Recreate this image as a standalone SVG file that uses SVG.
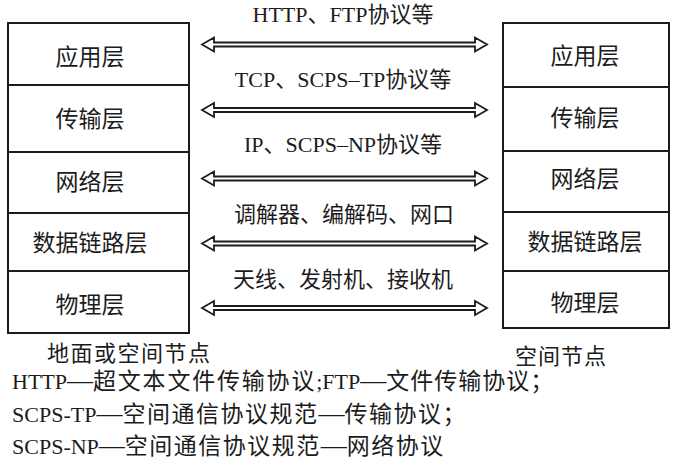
<svg xmlns="http://www.w3.org/2000/svg" width="678" height="468" viewBox="0 0 678 468">
<style>
text{font-family:"Liberation Serif","Noto Sans CJK SC",serif;fill:#1c1c1c;}
.cell{fill:#fff;stroke:#1c1c1c;stroke-width:2;}
.lbl{font-size:23px;text-anchor:middle;}
.al{font-size:22px;text-anchor:middle;}
.note{font-size:22px;}
.cj{font-size:23px;letter-spacing:1.5px;}
.dash{font-size:26px;}
.arr{fill:#fff;stroke:#1c1c1c;stroke-width:1.8;stroke-linejoin:miter;}
</style>
<defs>
<path id="dbl" class="arr" d="M202,0 L214,-7 L214,-2 L475,-2 L475,-7 L487,0 L475,7 L475,2 L214,2 L214,7 Z"/>
</defs>
<rect width="678" height="468" fill="#fff"/>

<g id="left-app"><rect class="cell" x="8" y="23" width="181" height="62"/><text class="lbl" x="90" y="65">应用层</text></g>
<g id="left-transport"><rect class="cell" x="8" y="85" width="181" height="67"/><text class="lbl" x="90" y="127">传输层</text></g>
<g id="left-network"><rect class="cell" x="8" y="152" width="181" height="61"/><text class="lbl" x="90" y="190">网络层</text></g>
<g id="left-datalink"><rect class="cell" x="8" y="213" width="181" height="58"/><text class="lbl" x="90" y="251">数据链路层</text></g>
<g id="left-physical"><rect class="cell" x="8" y="271" width="181" height="62"/><text class="lbl" x="90" y="313">物理层</text></g>

<g id="right-app"><rect class="cell" x="503" y="23" width="166" height="64"/><text class="lbl" x="585" y="64">应用层</text></g>
<g id="right-transport"><rect class="cell" x="503" y="87" width="166" height="64"/><text class="lbl" x="585" y="126">传输层</text></g>
<g id="right-network"><rect class="cell" x="503" y="151" width="166" height="61"/><text class="lbl" x="585" y="187">网络层</text></g>
<g id="right-datalink"><rect class="cell" x="503" y="212" width="166" height="59"/><text class="lbl" x="585" y="250">数据链路层</text></g>
<g id="right-physical"><rect class="cell" x="503" y="271" width="166" height="57"/><text class="lbl" x="585" y="311">物理层</text></g>

<g id="connectors">
<use href="#dbl" transform="translate(0,44.5)"/>
<use href="#dbl" transform="translate(0,110)"/>
<use href="#dbl" transform="translate(0,178.5)"/>
<use href="#dbl" transform="translate(0,243.5)"/>
<use href="#dbl" transform="translate(0,308)"/>
<text class="al" x="343" y="22">HTTP、FTP协议等</text>
<text class="al" x="343" y="87">TCP、SCPS–TP协议等</text>
<text class="al" x="343" y="152">IP、SCPS–NP协议等</text>
<text class="al" x="344" y="222">调解器、编解码、网口</text>
<text class="al" x="343" y="287">天线、发射机、接收机</text>
</g>

<g id="captions">
<text class="note" x="47" y="361" letter-spacing="1.5">地面或空间节点</text>
<text class="note" x="515" y="364" letter-spacing="1">空间节点</text>
<text class="note" x="12" y="389">HTTP<tspan class="dash">—</tspan><tspan class="cj" style="letter-spacing:1.8px">超文本文件传输协议</tspan>;FTP<tspan class="dash">—</tspan><tspan class="cj" style="letter-spacing:1px">文件传输协议；</tspan></text>
<text class="note" x="12" y="422">SCPS-TP<tspan class="dash">—</tspan><tspan class="cj">空间通信协议规范</tspan><tspan class="dash">—</tspan><tspan class="cj">传输协议；</tspan></text>
<text class="note" x="12" y="454">SCPS-NP<tspan class="dash">—</tspan><tspan class="cj">空间通信协议规范</tspan><tspan class="dash">—</tspan><tspan class="cj">网络协议</tspan></text>
</g>
</svg>
